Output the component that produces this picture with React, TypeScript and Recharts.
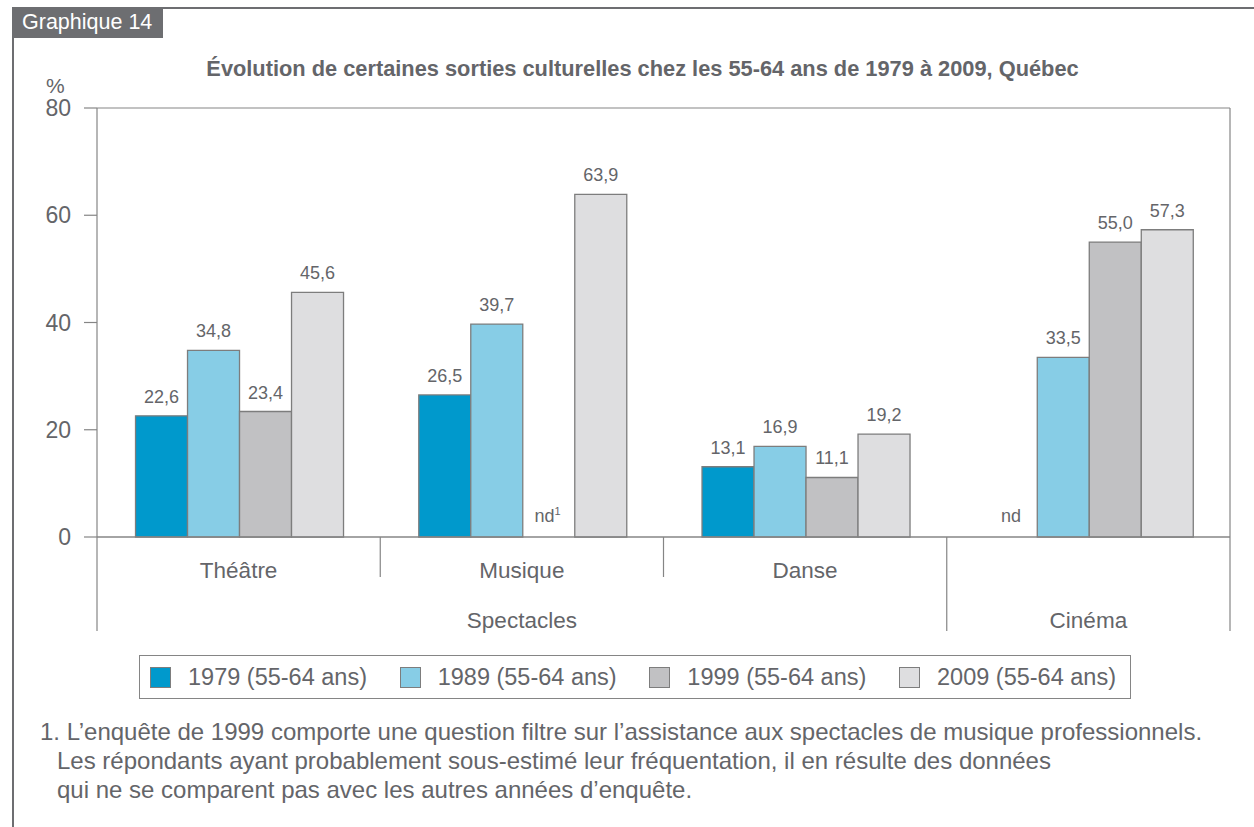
import React from 'react';
import { BarChart, Bar, XAxis, YAxis, CartesianGrid, LabelList } from 'recharts';

const categories = ['Théâtre', 'Musique', 'Danse', 'Cinéma'];
const tickLabels = ['Théâtre', 'Musique', 'Danse', ''];
const groupLabels = ['', 'Spectacles', '', 'Cinéma'];
const yTicks = [0, 20, 40, 60, 80];

const s1979 = [22.6, 26.5, 13.1, null];
const s1989 = [34.8, 39.7, 16.9, 33.5];
const s1999 = [23.4, null, 11.1, 55.0];
const s2009 = [45.6, 63.9, 19.2, 57.3];

// text shown where a value is missing (one row per series)
const ndText = [
  ['', '', '', 'nd'],
  ['', '', '', ''],
  ['', 'nd', '', ''],
  ['', '', '', ''],
];
const ndNote = [
  ['', '', '', ''],
  ['', '', '', ''],
  ['', '1', '', ''],
  ['', '', '', ''],
];

const seriesNames = ['1979 (55-64 ans)', '1989 (55-64 ans)', '1999 (55-64 ans)', '2009 (55-64 ans)'];
const colors = ['#0099cc', '#87cde6', '#c1c1c3', '#dedee0'];

const data = categories.map((c, i) => ({
  cat: c,
  v1979: s1979[i],
  v1989: s1989[i],
  v1999: s1999[i],
  v2009: s2009[i],
}));

const FONT = '"Liberation Sans", Arial, Helvetica, sans-serif';
const TXT = '#646569';
const LINE = '#858585';
const PLOT_W = 1133;
const BAND = PLOT_W / categories.length;
const GAP = 0.136;
const BAR_W = (BAND * (1 - 2 * GAP)) / 4;

const fmt = (v: number) => v.toFixed(1).replace('.', ',');

const ValueLabel = (props: any) => {
  const { x, y, width, value } = props;
  if (value == null) return null;
  const cx = Number(x) + Number(width) / 2;
  const s = fmt(Number(value));
  const w = s.length * 9.6 + 6;
  return (
    <g>
      <rect x={cx - w / 2} y={Number(y) - 29} width={w} height={20} fill="#fff" />
      <text x={cx} y={Number(y) - 13} textAnchor="middle" fontSize={18} fill={TXT} fontFamily={FONT}>
        {s}
      </text>
    </g>
  );
};

const CatTick = (props: any) => {
  const { x, y, index } = props;
  const left = x - BAND / 2;
  const right = x + BAND / 2;
  const longLeft = index === 0 || index === 3;
  const group = groupLabels[index];
  return (
    <g>
      <line x1={left} y1={y} x2={left} y2={y + (longLeft ? 94 : 40)} stroke={LINE} strokeWidth={1.2} />
      {index === categories.length - 1 ? (
        <line x1={right} y1={y} x2={right} y2={y + 94} stroke={LINE} strokeWidth={1.2} />
      ) : null}
      {ndText.map((row, s) =>
        row[index] ? (
          <text key={s} x={left + BAND * GAP + BAR_W * (s + 0.5)} y={y - 15} textAnchor="middle" fontSize={18} fill={TXT} fontFamily={FONT}>
            {row[index]}
            {ndNote[s][index] ? <tspan fontSize={11} dy={-7}>{ndNote[s][index]}</tspan> : null}
          </text>
        ) : null
      )}
      <text x={x} y={y + 41} textAnchor="middle" fontSize={22.5} fill={TXT} fontFamily={FONT}>
        {tickLabels[index]}
      </text>
      {group ? (
        <text x={x} y={y + 91} textAnchor="middle" fontSize={22.5} fill={TXT} fontFamily={FONT}>
          {group}
        </text>
      ) : null}
    </g>
  );
};

export default function App() {
  const keys = ['v1979', 'v1989', 'v1999', 'v2009'];
  return (
    <div style={{ position: 'absolute', left: 0, top: 0, width: 1254, height: 827, background: '#fff', fontFamily: FONT, overflow: 'hidden' }}>
      {/* frame */}
      <div style={{ position: 'absolute', left: 12, top: 7, width: 1242, height: 820, borderTop: `2px solid #6d6e71`, borderLeft: `2.5px solid #6d6e71` }} />
      <div style={{ position: 'absolute', left: 12, top: 7, width: 151, height: 31, background: '#6d6e71', color: '#fff', fontSize: 21.5, lineHeight: '31px', paddingLeft: 10, boxSizing: 'border-box', fontFamily: FONT }}>
        Graphique 14
      </div>
      <div style={{ position: 'absolute', left: 0, top: 56, width: 1285, textAlign: 'center', fontSize: 21.8, fontWeight: 'bold', color: TXT, whiteSpace: 'nowrap' }}>
        Évolution de certaines sorties culturelles chez les 55-64 ans de 1979 à 2009, Québec
      </div>
      <div style={{ position: 'absolute', left: 46, top: 74, fontSize: 21, lineHeight: '24px', color: TXT }}>%</div>

      <div style={{ position: 'absolute', left: 0, top: 0 }}>
        <BarChart
          width={1254}
          height={660}
          data={data}
          margin={{ top: 108, right: 23, left: 0, bottom: 23 }}
          barCategoryGap={`${GAP * 100}%`}
          barGap={0}
        >
          <CartesianGrid vertical={false} stroke={LINE} strokeWidth={1.2} />
          <YAxis
            yAxisId="left"
            width={97}
            domain={[0, 80]}
            ticks={yTicks}
            interval={0}
            tickSize={13}
            tickMargin={13}
            axisLine={{ stroke: LINE, strokeWidth: 1.2 }}
            tickLine={{ stroke: LINE, strokeWidth: 1.2 }}
            tick={{ fontSize: 23, fill: TXT, fontFamily: FONT }}
          />
          <YAxis
            yAxisId="right"
            orientation="right"
            width={1}
            tick={false}
            tickLine={false}
            axisLine={{ stroke: LINE, strokeWidth: 1.2 }}
          />
          <XAxis
            dataKey="cat"
            height={100}
            interval={0}
            tickSize={0}
            tickMargin={0}
            tickLine={false}
            axisLine={{ stroke: LINE, strokeWidth: 1.2 }}
            tick={<CatTick />}
          />
          {keys.map((k, i) => (
            <Bar key={k} yAxisId="left" dataKey={k} name={seriesNames[i]} fill={colors[i]} stroke="#7d7d7d" strokeWidth={1.3} isAnimationActive={false}>
              <LabelList dataKey={k} content={<ValueLabel />} />
            </Bar>
          ))}
        </BarChart>
      </div>

      {/* legend */}
      <div style={{ position: 'absolute', left: 139, top: 655, width: 992, height: 44, border: `1.5px solid ${LINE}`, boxSizing: 'border-box', display: 'flex', alignItems: 'center', justifyContent: 'space-between', paddingLeft: 10, paddingRight: 14 }}>
        {seriesNames.map((n, i) => (
          <div key={n} style={{ display: 'flex', alignItems: 'center' }}>
            <div style={{ width: 21, height: 21, background: colors[i], border: '1.5px solid #7d7d7d', boxSizing: 'border-box', marginRight: 17 }} />
            <span style={{ fontSize: 23.5, color: TXT }}>{n}</span>
          </div>
        ))}
      </div>

      {/* footnote */}
      <div style={{ position: 'absolute', left: 40, top: 717, fontSize: 24, lineHeight: '29px', color: TXT, whiteSpace: 'nowrap' }}>
        <div>1. L’enquête de 1999 comporte une question filtre sur l’assistance aux spectacles de musique professionnels.</div>
        <div style={{ paddingLeft: 17 }}>Les répondants ayant probablement sous-estimé leur fréquentation, il en résulte des données</div>
        <div style={{ paddingLeft: 17 }}>qui ne se comparent pas avec les autres années d’enquête.</div>
      </div>
    </div>
  );
}
